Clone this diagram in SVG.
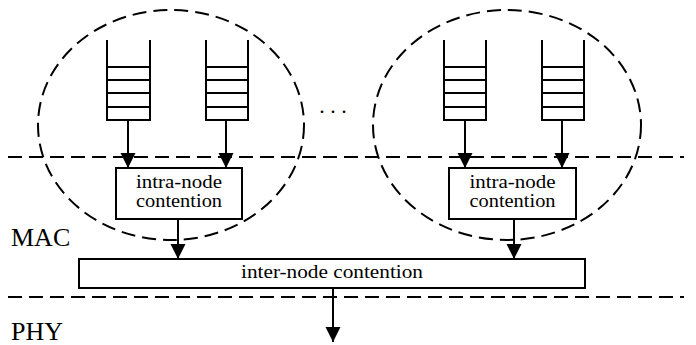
<svg xmlns="http://www.w3.org/2000/svg" width="696" height="345" viewBox="0 0 696 345">
<style>
.dash{fill:none;stroke:#000;stroke-width:2;stroke-dasharray:14 7}
.q{fill:none;stroke:#000;stroke-width:2}
.box{fill:#fff;stroke:#000;stroke-width:2}
.arr{stroke:#000;stroke-width:2;fill:none;marker-end:url(#ah)}
text{font-family:"Liberation Serif","Times New Roman",serif;fill:#000}
.lbl{font-size:19px;text-anchor:middle}
.layer{font-size:26px}
</style>
<defs>
<marker id="ah" markerUnits="userSpaceOnUse" markerWidth="16" markerHeight="16" refX="15" refY="7.5" orient="auto">
<path d="M0,0 L15,7.5 L0,15 Z" fill="#000"/>
</marker>
</defs>
<g id="layers">
<line class="dash" x1="8" y1="157" x2="684" y2="157"/>
<line class="dash" x1="8" y1="297" x2="684" y2="297"/>
<text class="layer" x="11" y="246">MAC</text>
<text class="layer" x="11" y="340">PHY</text>
</g>
<g id="node1">
<ellipse class="dash" cx="171" cy="125" rx="133" ry="115" stroke-dasharray="13 8"/>
<g id="q1">
<path class="q" d="M107,40 V120 H150 V40 M107,67 H150 M107,80 H150 M107,93 H150 M107,107 H150"/>
</g>
<g id="q2">
<path class="q" d="M206,40 V120 H248 V40 M206,67 H248 M206,80 H248 M206,93 H248 M206,107 H248"/>
</g>
<g id="intra1">
<rect class="box" x="116" y="168" width="126" height="51"/>
<text class="lbl" x="179" y="188" textLength="86" lengthAdjust="spacingAndGlyphs">intra-node</text>
<text class="lbl" x="179" y="207" textLength="86" lengthAdjust="spacingAndGlyphs">contention</text>
</g>
</g>
<g id="node2">
<ellipse class="dash" cx="507" cy="125" rx="134" ry="115" stroke-dasharray="13 8"/>
<g id="q3">
<path class="q" d="M444,40 V120 H486 V40 M444,67 H486 M444,80 H486 M444,93 H486 M444,107 H486"/>
</g>
<g id="q4">
<path class="q" d="M542,40 V120 H584 V40 M542,67 H584 M542,80 H584 M542,93 H584 M542,107 H584"/>
</g>
<g id="intra2">
<rect class="box" x="449" y="168" width="127" height="51"/>
<text class="lbl" x="512.5" y="188" textLength="86" lengthAdjust="spacingAndGlyphs">intra-node</text>
<text class="lbl" x="512.5" y="207" textLength="86" lengthAdjust="spacingAndGlyphs">contention</text>
</g>
</g>
<g id="dots">
<text x="333" y="113" font-size="22" text-anchor="middle">. . .</text>
</g>
<g id="inter">
<rect class="box" x="79" y="259" width="506" height="29"/>
<text class="lbl" x="332" y="278" textLength="182" lengthAdjust="spacingAndGlyphs">inter-node contention</text>
</g>
<g id="connectors">
<line class="arr" x1="128" y1="120" x2="128" y2="168"/>
<line class="arr" x1="226" y1="120" x2="226" y2="168"/>
<line class="arr" x1="465" y1="120" x2="465" y2="168"/>
<line class="arr" x1="562" y1="120" x2="562" y2="168"/>
<line class="arr" x1="178" y1="219" x2="178" y2="259"/>
<line class="arr" x1="514" y1="219" x2="514" y2="259"/>
<line class="arr" x1="333" y1="288" x2="333" y2="342"/>
</g>
</svg>
